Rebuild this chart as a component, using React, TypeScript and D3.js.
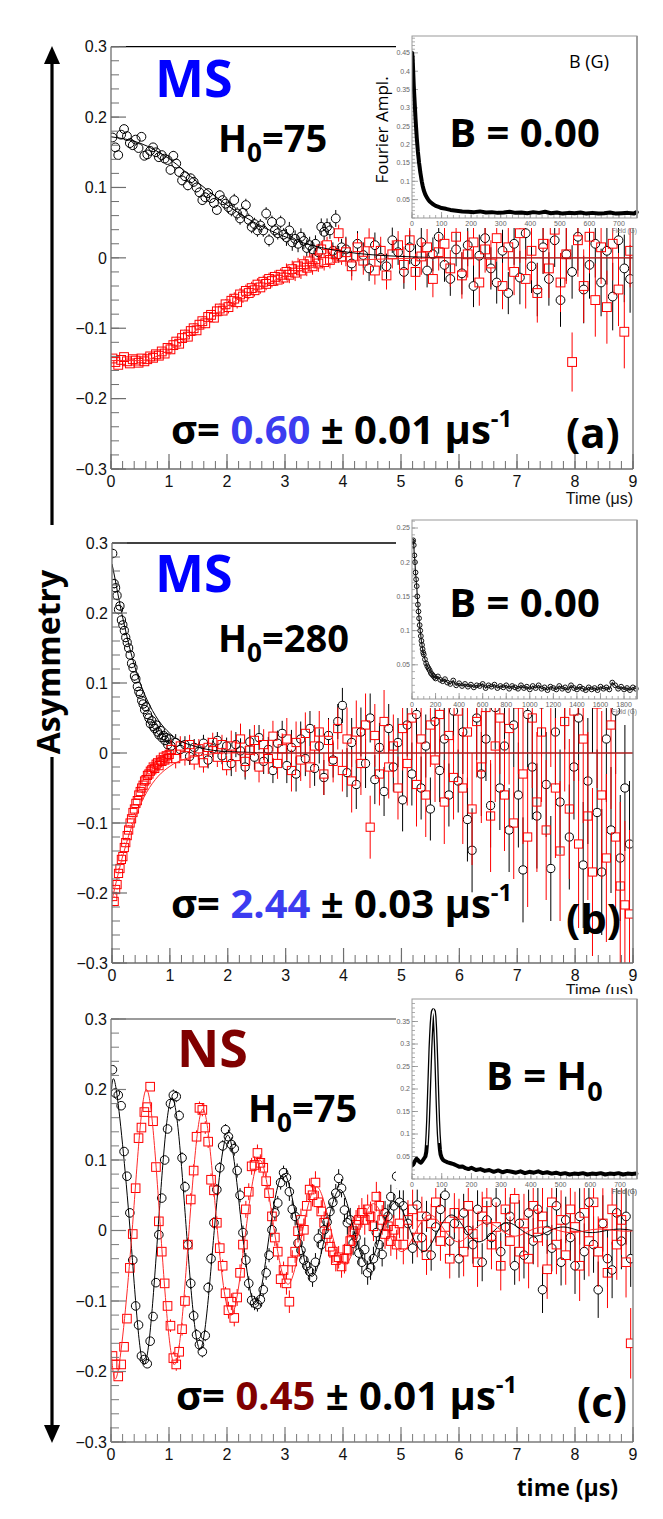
import React from "react";
import * as d3 from "d3";

// ---------------- shared tick labels ----------------
const yTickVals = [-0.3, -0.2, -0.1, 0, 0.1, 0.2, 0.3];
const yTickLabels = ["\u22120.3", "\u22120.2", "\u22120.1", "0", "0.1", "0.2", "0.3"];
const xTickVals = [0, 1, 2, 3, 4, 5, 6, 7, 8, 9];
const xTickLabels = ["0", "1", "2", "3", "4", "5", "6", "7", "8", "9"];

// ---------------- time bins ----------------
const tFine = [
  0.025, 0.075, 0.125, 0.175, 0.225, 0.275, 0.325, 0.375, 0.425, 0.475,
  0.525, 0.575, 0.625, 0.675, 0.725, 0.775, 0.825, 0.875, 0.925, 0.975,
  1.025, 1.075, 1.125, 1.175, 1.225, 1.275, 1.325, 1.375, 1.425, 1.475,
  1.525, 1.575, 1.625, 1.675, 1.725, 1.775, 1.825, 1.875, 1.925, 1.975,
  2.025, 2.075, 2.125, 2.175, 2.225, 2.275, 2.325, 2.375, 2.425, 2.475,
  2.525, 2.575, 2.625, 2.675, 2.725, 2.775, 2.825, 2.875, 2.925, 2.975,
  3.025, 3.075, 3.125, 3.175, 3.225, 3.275, 3.325, 3.375, 3.425, 3.475,
  3.525, 3.575, 3.625, 3.675, 3.725, 3.775, 3.825, 3.875, 3.925, 3.975,
  4.025, 4.075, 4.125, 4.175, 4.225, 4.275, 4.325, 4.375, 4.425, 4.475,
  4.525, 4.575, 4.625, 4.675, 4.725, 4.775, 4.825, 4.875, 4.925, 4.975,
];
const tTailA = [
  4.05, 4.15, 4.25, 4.35, 4.45, 4.55, 4.65, 4.75, 4.85, 4.95,
  5.05, 5.15, 5.25, 5.35, 5.45, 5.55, 5.65, 5.75, 5.85, 5.95,
  6.05, 6.15, 6.25, 6.35, 6.45, 6.55, 6.65, 6.75, 6.85, 6.95,
  7.05, 7.15, 7.25, 7.35, 7.45, 7.55, 7.65, 7.75, 7.85, 7.95,
  8.05, 8.15, 8.25, 8.35, 8.45, 8.55, 8.65, 8.75, 8.85, 8.95,
];
const tEarlyB = [
  0.0125, 0.0375, 0.0625, 0.0875, 0.1125, 0.1375, 0.1625, 0.1875, 0.2125, 0.2375,
  0.2625, 0.2875, 0.3125, 0.3375, 0.3625, 0.3875, 0.4125, 0.4375, 0.4625, 0.4875,
  0.5125, 0.5375, 0.5625, 0.5875, 0.6125, 0.6375, 0.6625, 0.6875, 0.7125, 0.7375,
  0.7625, 0.7875, 0.8125, 0.8375, 0.8625, 0.8875, 0.9125, 0.9375, 0.9625, 0.9875,
];
const tTailB = [
  1.02, 1.10, 1.18, 1.26, 1.34, 1.42, 1.50, 1.58, 1.66, 1.74,
  1.82, 1.90, 1.98, 2.06, 2.14, 2.22, 2.30, 2.38, 2.46, 2.54,
  2.62, 2.70, 2.78, 2.86, 2.94, 3.02, 3.10, 3.18, 3.26, 3.34,
  3.42, 3.50, 3.58, 3.66, 3.74, 3.82, 3.90, 3.98, 4.06, 4.14,
  4.22, 4.30, 4.38, 4.46, 4.54, 4.62, 4.70, 4.78, 4.86, 4.94,
  5.02, 5.10, 5.18, 5.26, 5.34, 5.42, 5.50, 5.58, 5.66, 5.74,
  5.82, 5.90, 5.98, 6.06, 6.14, 6.22, 6.30, 6.38, 6.46, 6.54,
  6.62, 6.70, 6.78, 6.86, 6.94, 7.02, 7.10, 7.18, 7.26, 7.34,
  7.42, 7.50, 7.58, 7.66, 7.74, 7.82, 7.90, 7.98, 8.06, 8.14,
  8.22, 8.30, 8.38, 8.46, 8.54, 8.62, 8.70, 8.78, 8.86, 8.94,
];
const tTailC = [
  5.04, 5.12, 5.20, 5.28, 5.36, 5.44, 5.52, 5.60, 5.68, 5.76,
  5.84, 5.92, 6.00, 6.08, 6.16, 6.24, 6.32, 6.40, 6.48, 6.56,
  6.64, 6.72, 6.80, 6.88, 6.96, 7.04, 7.12, 7.20, 7.28, 7.36,
  7.44, 7.52, 7.60, 7.68, 7.76, 7.84, 7.92, 8.00, 8.08, 8.16,
  8.24, 8.32, 8.40, 8.48, 8.56, 8.64, 8.72, 8.80, 8.88, 8.96,
];

// ---------------- panel (a): MS, H0=75 ----------------
const aBlack = [
  0.171, 0.157, 0.146, 0.175, 0.183, 0.173, 0.163, 0.16, 0.168, 0.156,
  0.172, 0.145, 0.147, 0.152, 0.157, 0.15, 0.143, 0.146, 0.141, 0.139,
  0.125, 0.145, 0.134, 0.122, 0.11, 0.116, 0.103, 0.113, 0.108, 0.1,
  0.093, 0.082, 0.086, 0.092, 0.085, 0.078, 0.068, 0.089, 0.082, 0.077,
  0.072, 0.068, 0.082, 0.063, 0.056, 0.064, 0.075, 0.054, 0.044, 0.048,
  0.039, 0.046, 0.039, 0.063, 0.025, 0.051, 0.039, 0.035, 0.051, 0.033,
  0.029, 0.039, 0.022, 0.027, 0.02, 0.03, 0.024, 0.014, 0.018, 0.012,
  0.02, 0.008, 0.044, 0.037, 0.044, 0.039, 0.01, 0.056, 0.005, 0.015,
  0.012, -0.008, 0.02, 0.004, -0.015, 0.018, 0.0, -0.012, 0.025, 0.008,
  -0.02, 0.015, -0.005, 0.022, -0.018, 0.005, 0.03, -0.01, -0.03, 0.012,
  -0.022, 0.018, -0.04, 0.003, 0.028, -0.015, -0.035, 0.01, -0.05, 0.02,
  -0.028, 0.035, -0.012, -0.045, 0.015, -0.03, 0.025, -0.06, 0.005, -0.02,
  0.03, -0.045, -0.01, 0.02, -0.035, 0.01, -0.055, 0.025, -0.015, -0.03,
];
const aRed = [
  -0.143, -0.148, -0.152, -0.145, -0.141, -0.147, -0.15, -0.144, -0.146, -0.149,
  -0.143, -0.147, -0.144, -0.14, -0.142, -0.137, -0.139, -0.133, -0.136, -0.128,
  -0.13, -0.124, -0.119, -0.122, -0.114, -0.109, -0.112, -0.104, -0.1, -0.103,
  -0.095, -0.09, -0.093, -0.084, -0.081, -0.085, -0.076, -0.072, -0.075, -0.066,
  -0.07, -0.061, -0.058, -0.063, -0.052, -0.055, -0.047, -0.05, -0.043, -0.046,
  -0.038, -0.042, -0.034, -0.037, -0.03, -0.033, -0.027, -0.031, -0.024, -0.028,
  -0.02, -0.024, -0.016, -0.021, -0.012, -0.018, -0.009, -0.014, -0.005, -0.012,
  -0.002, -0.008, 0.012, -0.006, 0.018, -0.003, 0.006, 0.005, 0.035, 0.002,
  0.008, -0.012, 0.015, -0.004, 0.022, -0.018, 0.01, -0.025, 0.005, 0.018,
  -0.01, 0.025, -0.02, 0.002, 0.015, -0.03, 0.008, 0.02, -0.015, 0.03,
  -0.025, 0.005, 0.022, -0.035, 0.012, -0.008, 0.028, -0.04, 0.015, -0.02,
  0.035, -0.03, 0.01, -0.05, 0.02, -0.015, 0.04, -0.035, 0.005, -0.148,
  0.025, -0.04, 0.03, -0.06, 0.015, -0.07, 0.02, -0.045, -0.105, 0.01,
];
const aErrBlack = [0.005, 0.007, 0.009, 0.012, 0.018, 0.024, 0.03, 0.038, 0.048];
const aErrRed = [0.005, 0.007, 0.009, 0.012, 0.02, 0.026, 0.033, 0.042, 0.052];
const aFitT = [0, 0.5, 1, 1.5, 2, 2.5, 3, 3.5, 4, 5, 6, 7, 8, 9];
const aFitBlack = [0.172, 0.163, 0.141, 0.107, 0.075, 0.049, 0.03, 0.017, 0.009, 0.002, 0, 0, 0, 0];
const aFitRed = [-0.146, -0.146, -0.131, -0.101, -0.069, -0.044, -0.026, -0.013, -0.005, -0.001, 0, 0, 0, 0];

// ---------------- panel (b): MS, H0=280 ----------------
const bBlack = [
  0.285, 0.242, 0.236, 0.225, 0.205, 0.21, 0.19, 0.183, 0.175, 0.165,
  0.158, 0.15, 0.14, 0.128, 0.122, 0.11, 0.106, 0.095, 0.088, 0.084,
  0.075, 0.07, 0.062, 0.066, 0.055, 0.05, 0.042, 0.046, 0.038, 0.035,
  0.04, 0.03, 0.026, 0.032, 0.022, 0.025, 0.018, 0.022, 0.012, 0.02,
  0.01, 0.015, 0.005, 0.012, -0.005, 0.008, 0.002, 0.014, -0.01, 0.006,
  0.018, -0.004, 0.01, -0.015, 0.012, 0.003, -0.02, 0.016, -0.006, 0.022,
  -0.012, 0.005, -0.025, 0.014, 0.028, -0.018, 0.008, -0.03, 0.02, -0.008,
  0.035, -0.022, 0.01, -0.035, 0.025, -0.01, 0.045, 0.068, -0.028, 0.015,
  -0.045, 0.03, -0.015, 0.05, -0.038, 0.008, -0.055, 0.035, -0.02, 0.015,
  -0.067, 0.04, -0.03, 0.055, -0.05, 0.01, -0.08, 0.045, -0.025, 0.02,
  -0.06, 0.06, -0.04, 0.03, -0.095, -0.139, 0.05, -0.03, 0.02, -0.075,
  0.065, -0.05, 0.01, -0.11, 0.04, -0.06, -0.167, 0.055, -0.02, -0.09,
  0.07, -0.045, -0.165, 0.03, -0.07, 0.08, -0.12, -0.02, 0.05, -0.16,
  -0.04, 0.09, -0.085, -0.17, 0.02, -0.11, 0.06, -0.15, -0.05, -0.13,
];
const bRed = [
  -0.205, -0.212, -0.195, -0.188, -0.172, -0.165, -0.152, -0.148, -0.135, -0.128,
  -0.118, -0.11, -0.1, -0.094, -0.085, -0.08, -0.072, -0.068, -0.06, -0.055,
  -0.05, -0.046, -0.04, -0.038, -0.032, -0.03, -0.026, -0.024, -0.02, -0.022,
  -0.016, -0.014, -0.018, -0.01, -0.012, -0.006, -0.01, -0.004, -0.008, -0.002,
  0.005, -0.008, 0.01, -0.004, 0.012, -0.01, 0.006, -0.014, 0.008, 0.015,
  -0.006, 0.012, -0.018, 0.01, -0.005, 0.02, -0.012, 0.004, 0.018, -0.02,
  0.012, -0.008, 0.024, -0.015, 0.006, 0.02, -0.025, 0.015, -0.01, 0.028,
  -0.02, 0.01, 0.03, -0.03, 0.018, -0.012, 0.035, -0.025, 0.02, -0.04,
  0.03, -0.015, 0.04, -0.106, 0.025, -0.03, 0.045, -0.02, 0.01, -0.05,
  0.035, -0.015, 0.05, -0.045, 0.02, -0.06, 0.04, -0.01, 0.055, -0.07,
  0.025, -0.035, 0.06, -0.05, 0.03, -0.08, 0.045, -0.02, 0.065, -0.09,
  0.01, 0.05, -0.06, 0.035, -0.1, 0.07, -0.03, -0.12, 0.05, -0.07,
  0.03, -0.11, 0.08, -0.05, -0.14, 0.045, -0.08, 0.06, -0.13, 0.02,
  -0.09, -0.17, 0.07, -0.06, -0.15, 0.04, -0.12, -0.19, -0.217, -0.23,
];
const bErrBlack = [0.007, 0.012, 0.018, 0.025, 0.035, 0.045, 0.06, 0.075, 0.09];
const bErrRed = [0.007, 0.014, 0.022, 0.03, 0.045, 0.06, 0.08, 0.1, 0.12];
const bFitT = [0, 0.05, 0.1, 0.15, 0.2, 0.3, 0.4, 0.5, 0.6, 0.8, 1, 1.5, 2, 3, 9];
const bFitBlack = [0.27, 0.25, 0.228, 0.207, 0.188, 0.152, 0.122, 0.097, 0.077, 0.047, 0.028, 0.008, 0.002, 0, 0];
const bFitRed = [-0.21, -0.192, -0.175, -0.158, -0.143, -0.115, -0.092, -0.072, -0.056, -0.033, -0.019, -0.004, 0, 0, 0];

// ---------------- panel (c): NS, H0=75 ----------------
const cBlack = [
  0.228, 0.195, 0.192, 0.177, 0.112, 0.077, 0.025, -0.042, -0.107, -0.134,
  -0.178, -0.183, -0.189, -0.157, -0.122, -0.074, -0.006, 0.046, 0.1, 0.144,
  0.18, 0.192, 0.19, 0.163, 0.103, 0.062, -0.02, -0.075, -0.121, -0.148,
  -0.162, -0.172, -0.149, -0.081, -0.04, 0.011, 0.058, 0.089, 0.12, 0.143,
  0.133, 0.122, 0.116, 0.085, 0.05, -0.003, -0.042, -0.075, -0.099, -0.103,
  -0.105, -0.098, -0.084, -0.06, -0.035, 0.001, 0.025, 0.039, 0.068, 0.082,
  0.075, 0.055, 0.03, 0.02, -0.018, -0.028, -0.042, -0.05, -0.058, -0.067,
  -0.045, -0.011, -0.02, 0.001, 0.012, 0.027, 0.04, 0.053, 0.074, 0.06,
  0.029, 0.011, 0.015, -0.018, -0.01, -0.032, -0.045, -0.027, -0.06, -0.053,
  -0.04, -0.003, -0.02, -0.034, 0.025, 0.02, 0.048, 0.035, 0.077, 0.04,
  0.035, 0.01, -0.025, 0.036, -0.01, 0.02, -0.035, 0.005, 0.03, 0.05,
  -0.015, 0.01, -0.04, 0.025, 0.0, -0.02, 0.03, -0.045, 0.015, -0.01,
  0.04, -0.03, 0.005, 0.02, -0.05, 0.01, -0.035, 0.025, -0.015, 0.03,
  -0.084, 0.0, -0.025, 0.035, -0.045, 0.015, -0.01, -0.05, 0.02, -0.03,
  0.04, -0.02, -0.084, 0.01, -0.04, -0.056, 0.025, -0.015, 0.02, -0.04,
];
const cRed = [
  -0.178, -0.19, -0.207, -0.19, -0.165, -0.125, -0.053, -0.005, 0.06, 0.131,
  0.146, 0.168, 0.175, 0.204, 0.155, 0.09, 0.013, -0.03, -0.075, -0.107,
  -0.135, -0.181, -0.19, -0.172, -0.14, -0.1, -0.02, 0.044, 0.085, 0.133,
  0.174, 0.171, 0.146, 0.126, 0.072, 0.057, 0.011, -0.025, -0.05, -0.089,
  -0.113, -0.101, -0.124, -0.095, -0.06, -0.02, 0.03, 0.055, 0.091, 0.093,
  0.11, 0.096, 0.089, 0.07, 0.053, 0.02, -0.01, -0.03, -0.069, -0.056,
  -0.075, -0.101, -0.044, -0.03, -0.001, 0.015, 0.001, 0.035, 0.058, 0.05,
  0.068, 0.04, 0.027, 0.011, -0.005, -0.023, -0.03, -0.042, -0.038, -0.051,
  -0.04, -0.027, -0.015, -0.001, 0.008, 0.015, 0.025, 0.015, 0.03, 0.02,
  0.006, 0.048, 0.035, 0.015, -0.005, 0.006, -0.015, 0.001, -0.02, 0.01,
  -0.02, 0.015, 0.03, -0.01, 0.02, -0.035, 0.01, 0.04, -0.015, 0.005,
  -0.04, 0.025, 0.01, -0.03, 0.035, -0.005, -0.045, 0.02, 0.04, -0.02,
  0.005, -0.05, 0.03, -0.015, 0.045, -0.03, 0.01, -0.04, 0.035, -0.01,
  0.02, -0.055, 0.04, -0.02, 0.015, -0.035, 0.03, 0.005, -0.05, 0.025,
  -0.015, 0.04, -0.03, 0.01, -0.06, 0.03, -0.02, 0.015, -0.045, -0.16,
];
const cErrBlack = [0.006, 0.008, 0.01, 0.013, 0.017, 0.022, 0.027, 0.033, 0.04];
const cErrRed = [0.006, 0.009, 0.012, 0.016, 0.021, 0.028, 0.035, 0.042, 0.05];
const cFitBlackT = [0, 0.09, 0.33, 0.57, 0.81, 1.055, 1.3, 1.54, 1.78, 2.02, 2.26, 2.5, 2.74, 2.985, 3.23, 3.47, 3.71, 3.95, 4.19, 4.43, 4.67, 4.915, 5.16, 5.4, 5.64, 5.88, 6.12, 6.36, 6.61, 6.85, 7.09, 7.33, 7.57, 7.81, 8.06, 8.3, 8.54, 8.78, 9];
const cFitBlack = [0.19, 0.2, 0, -0.19, 0, 0.188, 0, -0.168, 0, 0.135, 0, -0.105, 0, 0.08, 0, -0.065, 0, 0.058, 0, -0.048, 0, 0.04, 0, -0.03, 0, 0.022, 0, -0.016, 0, 0.011, 0, -0.008, 0, 0.005, 0, -0.003, 0, 0.002, 0];
const cFitRedT = [0, 0.12, 0.365, 0.61, 0.855, 1.1, 1.345, 1.59, 1.835, 2.08, 2.325, 2.57, 2.815, 3.06, 3.305, 3.55, 3.795, 4.04, 4.285, 4.53, 4.775, 5.02, 5.265, 5.51, 5.755, 6.0, 6.245, 6.49, 6.735, 6.98, 7.225, 7.47, 7.715, 7.96, 8.205, 8.45, 8.695, 8.94, 9];
const cFitRed = [-0.17, -0.2, 0, 0.2, 0, -0.19, 0, 0.172, 0, -0.12, 0, 0.1, 0, -0.076, 0, 0.062, 0, -0.048, 0, 0.038, 0, -0.03, 0, 0.022, 0, -0.016, 0, 0.011, 0, -0.008, 0, 0.005, 0, -0.003, 0, 0.002, 0, -0.001, 0];

// ---------------- insets (Fourier amplitude vs field) ----------------
const insAField = [0, 2, 4, 6, 8, 10, 12, 14, 16, 18, 20, 22, 24, 26, 28, 30, 33, 36, 40, 45, 50, 55, 60, 70, 80, 90, 100, 115, 130, 150, 170, 190, 210, 230, 250, 270, 290, 310, 330, 350, 370, 390, 410, 430, 450, 470, 490, 510, 530, 550, 570, 590, 610, 630, 650, 670, 690, 710, 730, 750, 760];
const insAAmp = [0.45, 0.44, 0.4, 0.36, 0.33, 0.3, 0.27, 0.245, 0.22, 0.2, 0.18, 0.165, 0.15, 0.138, 0.125, 0.115, 0.1, 0.088, 0.075, 0.064, 0.056, 0.05, 0.045, 0.038, 0.033, 0.03, 0.027, 0.025, 0.022, 0.02, 0.018, 0.017, 0.016, 0.018, 0.015, 0.016, 0.014, 0.015, 0.017, 0.014, 0.015, 0.013, 0.016, 0.014, 0.017, 0.013, 0.015, 0.012, 0.014, 0.013, 0.015, 0.012, 0.014, 0.012, 0.013, 0.015, 0.012, 0.013, 0.014, 0.012, 0.016];
const insAYTicks = [0.05, 0.1, 0.15, 0.2, 0.25, 0.3, 0.35, 0.4, 0.45];
const insAXTicks = [0, 100, 200, 300, 400, 500, 600, 700];

const insBField = [5, 10, 15, 20, 25, 30, 35, 40, 45, 50, 55, 60, 65, 70, 75, 80, 85, 90, 95, 100, 110, 120, 130, 140, 150, 160, 170, 180, 190, 200, 220, 240, 260, 280, 300, 325, 350, 375, 400, 425, 450, 475, 500, 525, 550, 575, 600, 625, 650, 675, 700, 725, 750, 775, 800, 825, 850, 875, 900, 925, 950, 975, 1000, 1025, 1050, 1075, 1100, 1125, 1150, 1175, 1200, 1225, 1250, 1275, 1300, 1325, 1350, 1375, 1400, 1425, 1450, 1475, 1500, 1525, 1550, 1575, 1600, 1625, 1650, 1675, 1700, 1725, 1750, 1775, 1800, 1825, 1850, 1875, 1900];
const insBAmp = [0.23, 0.232, 0.225, 0.21, 0.2, 0.185, 0.175, 0.165, 0.15, 0.138, 0.128, 0.118, 0.108, 0.1, 0.092, 0.085, 0.079, 0.073, 0.068, 0.065, 0.058, 0.052, 0.048, 0.045, 0.042, 0.038, 0.036, 0.034, 0.032, 0.03, 0.033, 0.028, 0.026, 0.029, 0.024, 0.022, 0.027, 0.02, 0.023, 0.019, 0.022, 0.018, 0.021, 0.017, 0.02, 0.019, 0.022, 0.016, 0.02, 0.018, 0.021, 0.016, 0.019, 0.017, 0.02, 0.015, 0.019, 0.017, 0.015, 0.02, 0.016, 0.018, 0.014, 0.019, 0.016, 0.02, 0.015, 0.017, 0.013, 0.018, 0.016, 0.014, 0.019, 0.015, 0.017, 0.013, 0.02, 0.016, 0.014, 0.018, 0.015, 0.013, 0.017, 0.014, 0.016, 0.013, 0.018, 0.015, 0.017, 0.014, 0.024, 0.02, 0.015, 0.018, 0.014, 0.016, 0.013, 0.017, 0.015];
const insBYTicks = [0.05, 0.1, 0.15, 0.2, 0.25];
const insBXTicks = [0, 200, 400, 600, 800, 1000, 1200, 1400, 1600, 1800];

const insCField = [0, 5, 10, 15, 20, 25, 30, 35, 40, 45, 48, 50, 52, 54, 56, 58, 60, 62, 64, 66, 68, 70, 72, 74, 76, 78, 80, 82, 84, 86, 88, 90, 92, 94, 96, 100, 105, 110, 120, 130, 140, 150, 160, 170, 180, 190, 200, 215, 230, 245, 260, 275, 290, 305, 320, 335, 350, 365, 380, 395, 410, 425, 440, 455, 470, 485, 500, 515, 530, 545, 560, 575, 590, 605, 620, 635, 650, 665, 680, 695, 710, 725, 740, 755];
const insCAmp = [0.03, 0.033, 0.04, 0.045, 0.042, 0.038, 0.036, 0.04, 0.045, 0.05, 0.06, 0.075, 0.1, 0.13, 0.17, 0.21, 0.25, 0.29, 0.32, 0.345, 0.362, 0.372, 0.375, 0.372, 0.36, 0.335, 0.3, 0.26, 0.215, 0.17, 0.13, 0.1, 0.08, 0.065, 0.055, 0.047, 0.042, 0.04, 0.037, 0.035, 0.033, 0.03, 0.027, 0.028, 0.024, 0.022, 0.025, 0.02, 0.022, 0.018, 0.02, 0.016, 0.019, 0.015, 0.018, 0.016, 0.014, 0.017, 0.013, 0.016, 0.014, 0.017, 0.013, 0.015, 0.012, 0.014, 0.011, 0.013, 0.01, 0.012, 0.011, 0.013, 0.01, 0.012, 0.011, 0.013, 0.01, 0.012, 0.011, 0.013, 0.01, 0.012, 0.011, 0.012];
const insCYTicks = [0.05, 0.1, 0.15, 0.2, 0.25, 0.3, 0.35];
const insCXTicks = [0, 100, 200, 300, 400, 500, 600, 700];

// ---------------- drawing ----------------
const BIG = "'Open Sans', 'Noto Sans', 'DejaVu Sans', sans-serif";
const AX = "'Liberation Sans', Arial, sans-serif";

type Box = { x0: number; x1: number; y0: number; y1: number };

function Series(props: any) {
  const { t, v, err, x, y, kind, color, r } = props;
  const n = Math.min(t.length, v.length);
  const items: any[] = [];
  for (let i = 0; i < n; i++) {
    const cx = x(t[i]);
    const cy = y(v[i]);
    const e = err[Math.min(err.length - 1, Math.floor(t[i]))];
    const ep = Math.abs(y(0) - y(e));
    items.push(
      <g key={i}>
        {ep > r ? (
          <>
            <line x1={cx} x2={cx} y1={cy - ep} y2={cy - r} stroke={color} strokeWidth={1} />
            <line x1={cx} x2={cx} y1={cy + r} y2={cy + ep} stroke={color} strokeWidth={1} />
          </>
        ) : null}
        {kind === "circle" ? (
          <circle cx={cx} cy={cy} r={r} fill="none" stroke={color} strokeWidth={1} />
        ) : (
          <rect x={cx - r} y={cy - r} width={2 * r} height={2 * r} fill="none" stroke={color} strokeWidth={1} />
        )}
      </g>
    );
  }
  return <g>{items}</g>;
}

function fitPath(ts: number[], vs: number[], x: any, y: any, curve: any) {
  const pts = ts.map((t, i) => [t, vs[i]] as [number, number]);
  return d3.line<[number, number]>().x((d) => x(d[0])).y((d) => y(d[1])).curve(curve)(pts) || "";
}

function Panel(props: any) {
  const { id, L, t, black, red, errB, errR, fitBT, fitB, fitRT, fitR, curve, topColor, axisColor, r } = props;
  const x = d3.scaleLinear().domain([0, 9]).range([L.x0, L.x1]);
  const y = d3.scaleLinear().domain([-0.3, 0.3]).range([L.y1, L.y0]);
  const yMinor = y.ticks(30);
  const xMinor = x.ticks(45);
  return (
    <g>
      <defs>
        <clipPath id={"clip-" + id}>
          <rect x={L.x0} y={L.y0} width={L.x1 - L.x0} height={L.y1 - L.y0} />
        </clipPath>
      </defs>
      <g clipPath={`url(#clip-${id})`}>
        <Series t={t} v={black} err={errB} x={x} y={y} kind="circle" color="#000" r={r} />
        <Series t={t} v={red} err={errR} x={x} y={y} kind="square" color="#ff0000" r={r} />
        <path d={fitPath(fitBT, fitB, x, y, curve)} fill="none" stroke="#000" strokeWidth={1} />
        <path d={fitPath(fitRT, fitR, x, y, curve)} fill="none" stroke="#ff2a2a" strokeWidth={1} />
      </g>
      {/* frame */}
      <line x1={L.x0} x2={L.x1} y1={L.y0} y2={L.y0} stroke={topColor} strokeWidth={1.3} />
      <line x1={L.x1} x2={L.x1} y1={L.y0} y2={L.y1} stroke={axisColor} strokeWidth={1.3} />
      <line x1={L.x0} x2={L.x0} y1={L.y0} y2={L.y1} stroke={axisColor} strokeWidth={1.3} />
      <line x1={L.x0} x2={L.x1} y1={L.y1} y2={L.y1} stroke={axisColor} strokeWidth={1.3} />
      {yMinor.map((v: number, i: number) => (
        <line key={"ym" + i} x1={L.x0} x2={L.x0 + 8} y1={y(v)} y2={y(v)} stroke={axisColor} strokeWidth={1} />
      ))}
      {yTickVals.map((v, i) => (
        <line key={"yM" + i} x1={L.x0} x2={L.x0 + 15} y1={y(v)} y2={y(v)} stroke={axisColor} strokeWidth={1.2} />
      ))}
      {xMinor.map((v: number, i: number) => (
        <line key={"xm" + i} x1={x(v)} x2={x(v)} y1={L.y1} y2={L.y1 - 8} stroke={axisColor} strokeWidth={1} />
      ))}
      {xTickVals.map((v, i) => (
        <line key={"xM" + i} x1={x(v)} x2={x(v)} y1={L.y1} y2={L.y1 - 15} stroke={axisColor} strokeWidth={1.2} />
      ))}
      {yTickVals.map((v, i) => (
        <text key={"yl" + i} x={L.x0 - 4} y={y(v)} dy="0.36em" textAnchor="end" fontFamily={AX} fontSize={16} fill="#111">
          {yTickLabels[i]}
        </text>
      ))}
      {xTickVals.map((v, i) => (
        <text key={"xl" + i} x={x(v)} y={L.y1 + 18} textAnchor="middle" fontFamily={AX} fontSize={16} fill="#111">
          {xTickLabels[i]}
        </text>
      ))}
    </g>
  );
}

function Inset(props: any) {
  const { id, F, xDom, yDom, xTicks, yTicks, yMinorStep, xMinorStep, fields, amps, mode, wy0, wy1 } = props;
  const x = d3.scaleLinear().domain(xDom).range([F.x0, F.x1]);
  const y = d3.scaleLinear().domain(yDom).range([F.y1, F.y0]);
  const yMinor = d3.range(0, yDom[1], yMinorStep);
  const xMinor = d3.range(0, xDom[1], xMinorStep);
  const pts = fields.map((f: number, i: number) => [f, amps[i]] as [number, number]);
  const ln = d3.line<[number, number]>().x((d) => x(d[0])).y((d) => y(d[1]));
  const peak = pts.filter((p: [number, number]) => p[0] >= 50 && p[0] <= 92);
  const gray = "#8a8a8a";
  return (
    <g>
      <rect x={396} y={wy0} width={260} height={wy1 - wy0} fill="#fff" />
      <defs>
        <clipPath id={"iclip-" + id}>
          <rect x={F.x0} y={F.y0 - 2} width={F.x1 - F.x0 + 3} height={F.y1 - F.y0 + 2} />
        </clipPath>
      </defs>
      {yMinor.map((v: number, i: number) => (
        <line key={"m" + i} x1={F.x0} x2={F.x0 + 3} y1={y(v)} y2={y(v)} stroke={gray} strokeWidth={0.7} />
      ))}
      {yTicks.map((v: number, i: number) => (
        <g key={"t" + i}>
          <line x1={F.x0} x2={F.x0 + 6} y1={y(v)} y2={y(v)} stroke={gray} strokeWidth={0.8} />
          <text x={F.x0 - 2} y={y(v)} dy="0.35em" textAnchor="end" fontFamily={AX} fontSize={7} fill="#666">
            {String(v)}
          </text>
        </g>
      ))}
      {xMinor.map((v: number, i: number) => (
        <line key={"xm" + i} x1={x(v)} x2={x(v)} y1={F.y1} y2={F.y1 - 3} stroke={gray} strokeWidth={0.7} />
      ))}
      {xTicks.map((v: number, i: number) => (
        <g key={"xt" + i}>
          <line x1={x(v)} x2={x(v)} y1={F.y1} y2={F.y1 - 6} stroke={gray} strokeWidth={0.8} />
          <text x={x(v)} y={F.y1 + 8} textAnchor="middle" fontFamily={AX} fontSize={7} fill="#666">
            {String(v)}
          </text>
        </g>
      ))}
      <g clipPath={`url(#iclip-${id})`}>
        {mode === "circles" ? (
          <>
            <path d={ln(pts) || ""} fill="none" stroke="#222" strokeWidth={1.2} />
            {pts.map((p: [number, number], i: number) => (
              <circle key={i} cx={x(p[0])} cy={y(p[1])} r={2.4} fill="none" stroke="#111" strokeWidth={1} />
            ))}
          </>
        ) : (
          <path d={ln(pts) || ""} fill="none" stroke="#000" strokeWidth={4} strokeLinejoin="round" strokeLinecap="round" />
        )}
        {mode === "peak" ? (
          <path d={ln(peak) || ""} fill="none" stroke="#fff" strokeWidth={1.4} />
        ) : null}
      </g>
      <rect x={F.x0} y={F.y0} width={F.x1 - F.x0} height={F.y1 - F.y0} fill="none" stroke="#999" strokeWidth={1} />
      <line x1={F.x1} x2={F.x1} y1={F.y0} y2={F.y1} stroke="#999" strokeWidth={1.8} />
      <text x={F.x1} y={F.y1 + 15} textAnchor="end" fontFamily={AX} fontSize={6.5} fill="#777">
        Field (G)
      </text>
    </g>
  );
}

function Sigma(props: any) {
  const { x, y, val, valColor, err } = props;
  return (
    <text x={x} y={y} fontFamily={BIG} fontWeight={700} fontSize={40} fill="#000">
      <tspan>σ= </tspan>
      <tspan fill={valColor}>{val}</tspan>
      <tspan>{" ± " + err + " μs"}</tspan>
      <tspan fontSize={24} dy={-17}>-1</tspan>
    </text>
  );
}

function H0(props: any) {
  const { x, y, val } = props;
  return (
    <text x={x} y={y} fontFamily={BIG} fontWeight={700} fontSize={38} fill="#000">
      <tspan>H</tspan>
      <tspan fontSize={26} dy={10}>0</tspan>
      <tspan dy={-10}>{"=" + val}</tspan>
    </text>
  );
}

export default function App() {
  const PA: Box = { x0: 111, x1: 633, y0: 46.7, y1: 469 };
  const PB: Box = { x0: 112, x1: 633, y0: 543, y1: 963 };
  const PC: Box = { x0: 111, x1: 633, y0: 1019, y1: 1442 };
  const tA = [...tFine.slice(0, 80), ...tTailA];
  const tB = [...tEarlyB, ...tTailB];
  const tC = [...tFine, ...tTailC];
  const blue = "#0000ff";
  const blueVal = "#3c3cf0";
  const dred = "#800000";
  return (
    <svg width={663} height={1519} style={{ position: "absolute", left: 0, top: 0, background: "#fff" }}>
      <rect x={0} y={0} width={663} height={1519} fill="#fff" />

      {/* vertical Asymmetry arrow */}
      <line x1={52} x2={52} y1={60} y2={525} stroke="#000" strokeWidth={3.2} />
      <polygon points="52,46 44,64 60,64" fill="#000" />
      <line x1={52} x2={52} y1={757} y2={1428} stroke="#000" strokeWidth={3.2} />
      <polygon points="52,1443 44,1425 60,1425" fill="#000" />
      <text transform="translate(60,662) rotate(-90)" textAnchor="middle" fontFamily={BIG} fontWeight={700} fontSize={32} fill="#000">
        Asymmetry
      </text>

      {/* ---------- panel (a) ---------- */}
      <Panel id="a" L={PA} t={tA} black={aBlack} red={aRed} errB={aErrBlack} errR={aErrRed}
        fitBT={aFitT} fitB={aFitBlack} fitRT={aFitT} fitR={aFitRed} curve={d3.curveMonotoneX}
        topColor="#000" axisColor="#6e6e6e" r={4.4} />
      <text x={633} y={504} textAnchor="end" fontFamily={AX} fontSize={16} fill="#111">Time (μs)</text>
      <Inset id="a" F={{ x0: 412, x1: 637, y0: 36, y1: 218 }} xDom={[0, 761]} yDom={[0, 0.496]}
        xTicks={insAXTicks} yTicks={insAYTicks} yMinorStep={0.01} xMinorStep={20}
        fields={insAField} amps={insAAmp} mode="line" wy0={26} wy1={228} />
      <text transform="translate(388,130) rotate(-90)" textAnchor="middle" fontFamily={BIG} fontSize={17} fill="#000">Fourier Ampl.</text>
      <text x={569} y={68} fontFamily={BIG} fontSize={18} fill="#000">B (G)</text>
      <text x={524.5} y={147} textAnchor="middle" fontFamily={BIG} fontWeight={700} fontSize={40} fill="#000">B = 0.00</text>
      <text x={155} y={97} fontFamily={BIG} fontWeight={700} fontSize={52} fill={blue}>MS</text>
      <H0 x={218} y={152} val="75" />
      <Sigma x={171} y={444} val="0.60" valColor={blueVal} err="0.01" />
      <text x={566} y={448} fontFamily={BIG} fontWeight={700} fontSize={42} fill="#000">(a)</text>

      {/* ---------- panel (b) ---------- */}
      <Panel id="b" L={PB} t={tB} black={bBlack} red={bRed} errB={bErrBlack} errR={bErrRed}
        fitBT={bFitT} fitB={bFitBlack} fitRT={bFitT} fitR={bFitRed} curve={d3.curveMonotoneX}
        topColor="#000" axisColor="#6e6e6e" r={4.1} />
      <text x={633} y={996} textAnchor="end" fontFamily={AX} fontSize={16} fill="#111">Time (μs)</text>
      <Inset id="b" F={{ x0: 412, x1: 637, y0: 520, y1: 699 }} xDom={[0, 1910]} yDom={[0, 0.2617]}
        xTicks={insBXTicks} yTicks={insBYTicks} yMinorStep={0.01} xMinorStep={50}
        fields={insBField} amps={insBAmp} mode="circles" wy0={511} wy1={708} />
      <text x={524.5} y={617} textAnchor="middle" fontFamily={BIG} fontWeight={700} fontSize={40} fill="#000">B = 0.00</text>
      <text x={155} y={592} fontFamily={BIG} fontWeight={700} fontSize={52} fill={blue}>MS</text>
      <H0 x={218} y={652} val="280" />
      <Sigma x={171} y={918} val="2.44" valColor={blueVal} err="0.03" />
      <text x={566} y={934} fontFamily={BIG} fontWeight={700} fontSize={42} fill="#000">(b)</text>

      {/* ---------- panel (c) ---------- */}
      <Inset id="c" F={{ x0: 412, x1: 637, y0: 999, y1: 1179 }} xDom={[0, 757]} yDom={[0, 0.4]}
        xTicks={insCXTicks} yTicks={insCYTicks} yMinorStep={0.01} xMinorStep={20}
        fields={insCField} amps={insCAmp} mode="peak" wy0={994} wy1={1188} />
      <Panel id="c" L={PC} t={tC} black={cBlack} red={cRed} errB={cErrBlack} errR={cErrRed}
        fitBT={cFitBlackT} fitB={cFitBlack} fitRT={cFitRedT} fitR={cFitRed} curve={d3.curveNatural}
        topColor="#7a7a7a" axisColor="#7a7a7a" r={4.3} />
      <Inset id="c2" F={{ x0: 412, x1: 637, y0: 999, y1: 1179 }} xDom={[0, 757]} yDom={[0, 0.4]}
        xTicks={insCXTicks} yTicks={insCYTicks} yMinorStep={0.01} xMinorStep={20}
        fields={insCField} amps={insCAmp} mode="peak" wy0={994} wy1={1188} />
      <text x={486} y={1090} fontFamily={BIG} fontWeight={700} fontSize={40} fill="#000">
        <tspan>B = H</tspan>
        <tspan fontSize={27} dy={11}>0</tspan>
      </text>
      <text x={177} y={1067} fontFamily={BIG} fontWeight={700} fontSize={52} fill={dred}>NS</text>
      <H0 x={248} y={1122} val="75" />
      <Sigma x={176} y={1410} val="0.45" valColor={dred} err="0.01" />
      <text x={577} y={1417} fontFamily={BIG} fontWeight={700} fontSize={42} fill="#000">(c)</text>
      <text x={618} y={1496} textAnchor="end" fontFamily={BIG} fontWeight={700} fontSize={23} fill="#000">time (μs)</text>
    </svg>
  );
}
